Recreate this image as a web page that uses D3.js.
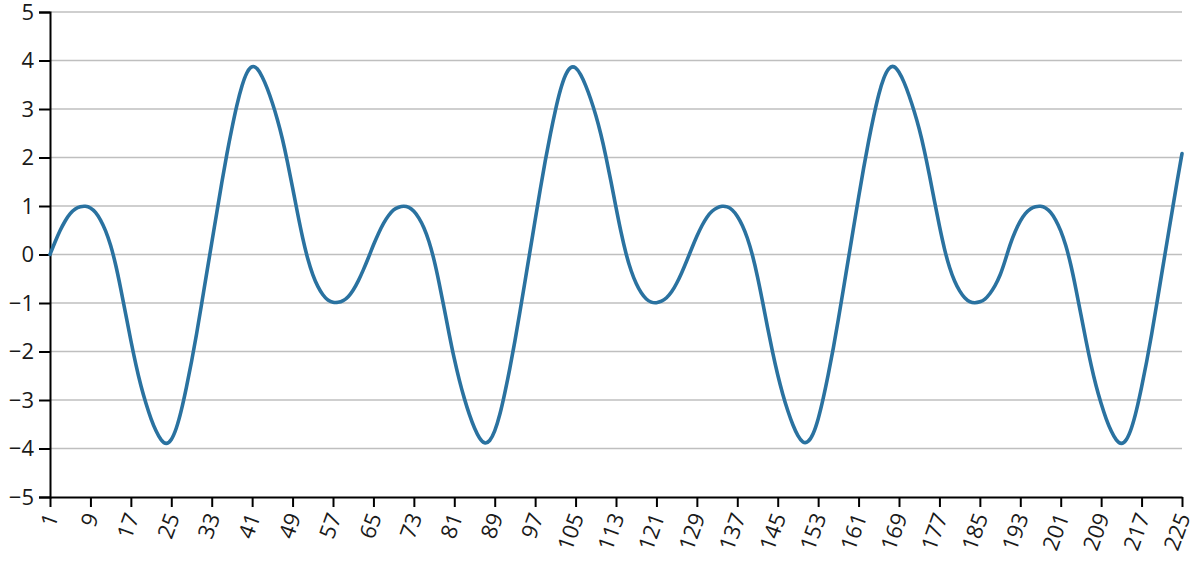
<!DOCTYPE html>
<html>
<head>
<meta charset="utf-8">
<script src="https://cdn.jsdelivr.net/npm/d3@7"></script>
<style>
  body { margin: 0; background: #fff; }
  svg { display: block; }
  .tick text { font-family: "Open Sans", "Noto Sans", sans-serif; font-size: 22px; fill: #1a1a1a; }
</style>
</head>
<body>
<div id="chart"></div>
<script>
// x categories 1..225, labels shown every 8th
var categories = d3.range(1, 226);
var tickLabels = [1, 9, 17, 25, 33, 41, 49, 57, 65, 73, 81, 89, 97, 105, 113, 121,
    129, 137, 145, 153, 161, 169, 177, 185, 193, 201, 209, 217, 225];
var yTicks = [-5, -4, -3, -2, -1, 0, 1, 2, 3, 4, 5];

// values, one per category
var values = [
    0, 0.26, 0.50, 0.70, 0.85, 0.95, 0.99, 1.00, 0.97, 0.88,
    0.72, 0.50, 0.20, -0.20, -0.70, -1.24, -1.78, -2.28, -2.72, -3.08,
    -3.40, -3.65, -3.84, -3.92, -3.84, -3.60, -3.22, -2.74, -2.22, -1.65,
    -1.02, -0.39, 0.24, 0.86, 1.49, 2.08, 2.61, 3.10, 3.50, 3.78,
    3.90, 3.85, 3.67, 3.43, 3.13, 2.79, 2.39, 1.91, 1.38, 0.84,
    0.33, -0.10, -0.43, -0.67, -0.84, -0.95, -0.99, -0.99, -0.96, -0.88,
    -0.74, -0.55, -0.32, -0.07,
    0.20, 0.44, 0.65, 0.81, 0.93, 0.98,
    1.00, 0.98, 0.90, 0.76, 0.56, 0.28, -0.10, -0.58, -1.11, -1.65,
    -2.16, -2.60, -2.98, -3.31, -3.59, -3.80, -3.91, -3.86, -3.66, -3.32,
    -2.86, -2.35, -1.79, -1.18, -0.55, 0.08, 0.71, 1.34, 1.94, 2.48,
    2.98, 3.41, 3.72, 3.88, 3.87, 3.72, 3.49, 3.21, 2.88, 2.49,
    2.03, 1.51, 0.97, 0.45, 0.00, -0.35, -0.61, -0.80, -0.93, -0.99,
    -1.00, -0.97, -0.90, -0.78, -0.60, -0.38, -0.13,
    0.13, 0.38, 0.60,
    0.78, 0.90, 0.97, 1.00, 0.99, 0.93, 0.80, 0.61, 0.35, 0.00,
    -0.45, -0.97, -1.51, -2.03, -2.49, -2.89, -3.23, -3.52, -3.75, -3.89,
    -3.88, -3.72, -3.41, -2.98, -2.48, -1.94, -1.34, -0.71, -0.08, 0.55,
    1.18, 1.79, 2.35, 2.86, 3.32, 3.66, 3.86, 3.90, 3.77, 3.56,
    3.28, 2.96, 2.60, 2.16, 1.65, 1.11, 0.58, 0.10, -0.28, -0.56,
    -0.76, -0.90, -0.98, -1.00, -0.98, -0.93, -0.81, -0.65, -0.44, -0.13,
    0.22, 0.48, 0.70, 0.85, 0.95, 0.99, 1.00, 0.97, 0.88, 0.72,
    0.50, 0.20, -0.20, -0.70, -1.24, -1.78, -2.28, -2.72, -3.08, -3.40,
    -3.65, -3.84, -3.92, -3.84, -3.60, -3.22, -2.74, -2.22, -1.65, -1.02,
    -0.39, 0.24, 0.86, 1.49, 2.08
];

var margin = { top: 12, right: 18, bottom: 64, left: 50 };
var width = 1200 - margin.left - margin.right;
var height = 561 - margin.top - margin.bottom;

var svg = d3.select("#chart").append("svg")
    .attr("width", 1200)
    .attr("height", 561)
    .append("g")
    .attr("transform", "translate(" + margin.left + "," + margin.top + ")");

var x = d3.scalePoint()
    .domain(categories)
    .range([0, width]);

var y = d3.scaleLinear()
    .domain([-5, 5])
    .range([height, 0]);

// gridlines
svg.append("g")
    .selectAll("line")
    .data(yTicks.filter(function(d) { return d > -5; }))
    .enter().append("line")
    .attr("x1", 0)
    .attr("x2", width)
    .attr("y1", function(d) { return y(d); })
    .attr("y2", function(d) { return y(d); })
    .attr("stroke", "#bfbfbf")
    .attr("stroke-width", 1.3);

// y axis
var yAxis = svg.append("g")
    .call(d3.axisLeft(y).tickValues(yTicks).tickSize(11).tickPadding(5));
yAxis.select(".domain").attr("stroke", "#000").attr("stroke-width", 2);
yAxis.selectAll(".tick line").attr("stroke", "#000").attr("stroke-width", 2);

// x axis
var xAxis = svg.append("g")
    .attr("transform", "translate(0," + height + ")")
    .call(d3.axisBottom(x).tickValues(tickLabels).tickSize(10).tickSizeOuter(0));
xAxis.select(".domain").attr("stroke", "#000").attr("stroke-width", 2);
xAxis.selectAll(".tick line").attr("stroke", "#000").attr("stroke-width", 2);
xAxis.selectAll("text")
    .attr("text-anchor", "end")
    .attr("x", 0)
    .attr("y", 0)
    .attr("dy", "0.35em")
    .attr("transform", "translate(1,17) rotate(-70)");

// the series
var line = d3.line()
    .x(function(d, i) { return x(categories[i]); })
    .y(function(d) { return y(d); })
    .curve(d3.curveBasis);

svg.append("path")
    .datum(values)
    .attr("fill", "none")
    .attr("stroke", "#2a72a0")
    .attr("stroke-width", 3.6)
    .attr("stroke-linejoin", "round")
    .attr("stroke-linecap", "round")
    .attr("d", line);
</script>
</body>
</html>
